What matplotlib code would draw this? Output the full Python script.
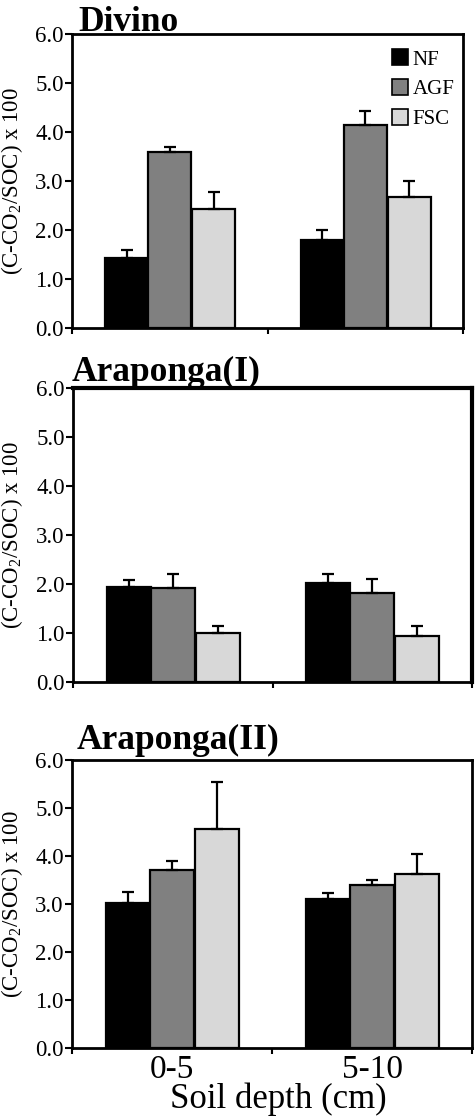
import matplotlib
matplotlib.use("Agg")
import matplotlib.pyplot as plt
from matplotlib.patches import Patch
import numpy as np

plt.rcParams['font.family'] = ['Liberation Serif', 'DejaVu Serif']
plt.rcParams['mathtext.fontset'] = 'custom'
plt.rcParams['mathtext.rm'] = 'Liberation Serif'

depths = ["0-5", "5-10"]
systems = ["NF", "AGF", "FSC"]
colors = ["#000000", "#808080", "#d8d8d8"]
sites = ["Divino", "Araponga(I)", "Araponga(II)"]

divino_vals = {"NF": [1.43, 1.80], "AGF": [3.60, 4.14], "FSC": [2.42, 2.68]}
divino_err = {"NF": [0.16, 0.20], "AGF": [0.09, 0.29], "FSC": [0.36, 0.32]}
arap1_vals = {"NF": [1.93, 2.02], "AGF": [1.91, 1.82], "FSC": [0.99, 0.94]}
arap1_err = {"NF": [0.16, 0.18], "AGF": [0.30, 0.28], "FSC": [0.15, 0.20]}
arap2_vals = {"NF": [3.03, 3.10], "AGF": [3.70, 3.39], "FSC": [4.56, 3.63]}
arap2_err = {"NF": [0.22, 0.12], "AGF": [0.20, 0.11], "FSC": [0.99, 0.42]}

yticks = [0.0, 1.0, 2.0, 3.0, 4.0, 5.0, 6.0]
ylabel = "(C-CO$_2$/SOC) x 100"
xlabel = "Soil depth (cm)"

W, H = 475, 1117
fig = plt.figure(figsize=(W / 100, H / 100), dpi=100)

# pixel boxes: left, right, top, bottom
boxes = [(72, 463, 34, 328), (73, 472, 388, 682), (72, 472, 760, 1048)]
title_pos = [(78, 31), (72, 381), (77, 749)]
data = [(divino_vals, divino_err), (arap1_vals, arap1_err), (arap2_vals, arap2_err)]

x = np.arange(len(depths))
bw = 0.22
offsets = [-0.22, 0.0, 0.225]

for i, (box, (vals, errs)) in enumerate(zip(boxes, data)):
    l, r, t, b = box
    ax = fig.add_axes([l / W, 1 - b / H, (r - l) / W, (b - t) / H])
    for j, s in enumerate(systems):
        v = np.array(vals[s])
        e = np.array(errs[s])
        ax.bar(x + offsets[j], v, width=bw, color=colors[j], edgecolor="black",
               linewidth=1.6, label=s, zorder=2)
        ax.errorbar(x + offsets[j], v, yerr=[np.zeros_like(e), e], fmt="none",
                    ecolor="black", elinewidth=1.6, capsize=4, capthick=1.6, zorder=3)
    ax.set_xlim(-0.5, 1.5)
    ax.set_ylim(0, 6)
    ax.set_yticks(yticks)
    ax.set_yticklabels([f"{v:.1f}" for v in yticks], fontsize=16.5)
    ax.tick_params(axis="y", direction="out", length=5, width=1.5, pad=1)
    ax.set_xticks([-0.5, 0.5, 1.5])
    ax.set_xticklabels([])
    ax.tick_params(axis="x", which="major", direction="out", length=4, width=1.5)
    ax.set_xticks(x, minor=True)
    if i == 2:
        ax.set_xticklabels(depths, minor=True, fontsize=24)
    else:
        ax.set_xticklabels([], minor=True)
    ax.tick_params(axis="x", which="minor", length=0, pad=5)
    for sp in ax.spines.values():
        sp.set_linewidth(2.0)
    if i == 1:
        ax.spines["top"].set_linewidth(3.0)
        ax.spines["right"].set_linewidth(3.0)
    fig.text(title_pos[i][0] / W, 1 - title_pos[i][1] / H, sites[i], fontsize=25.5,
             fontweight="bold", ha="left", va="baseline")
    fig.text(12 / W, 1 - (t + b) / 2 / H, ylabel, rotation=90, fontsize=16.5,
             ha="center", va="center")
    if i == 0:
        handles = [Patch(facecolor=c, edgecolor="black", linewidth=1.2) for c in colors]
        ax.legend(handles, systems, loc="upper right", bbox_to_anchor=(1.01, 0.99),
                  frameon=False, fontsize=15, handlelength=0.8, handleheight=0.8,
                  handletextpad=0.2, labelspacing=0.45, borderaxespad=0.2)

fig.text(278 / W, 1 - 1108 / H, xlabel, fontsize=25, ha="center", va="baseline")

fig.savefig("out.png", dpi=100)
